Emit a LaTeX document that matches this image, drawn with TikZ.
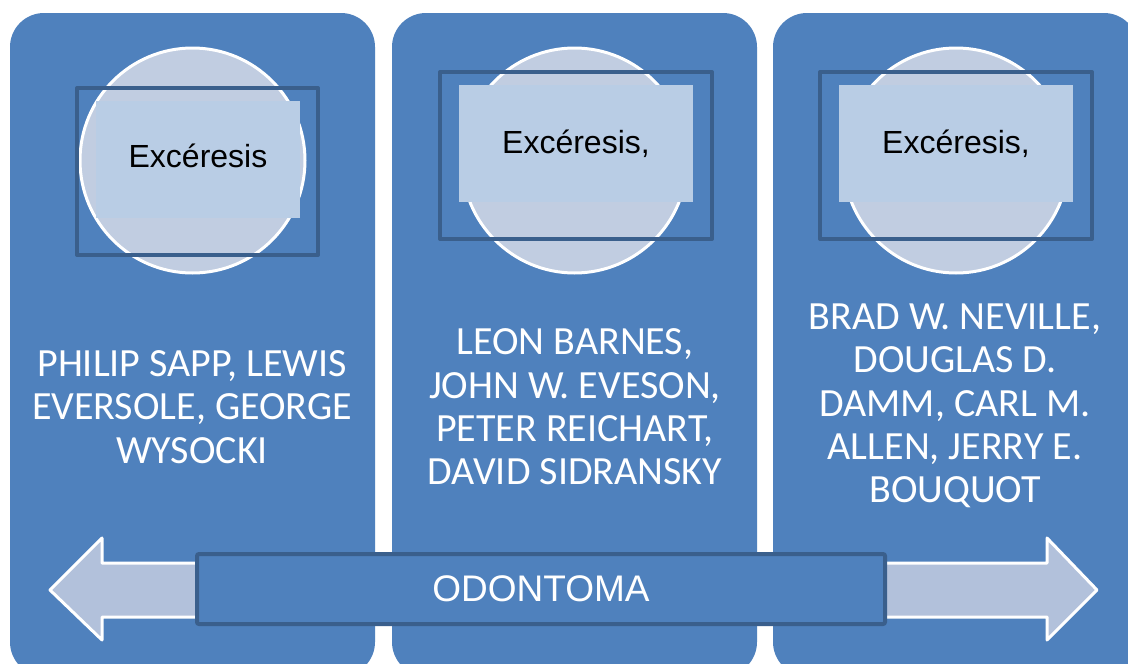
\documentclass[tikz,border=0pt]{standalone}
\usepackage{fontspec}
\newfontfamily\arialf{Liberation Sans}
\newfontfamily\calf{Carlito}
\definecolor{panelblue}{HTML}{4F81BD}
\definecolor{edgeblue}{HTML}{3A5F8C}
\definecolor{discfill}{HTML}{C1CDE1}
\definecolor{tagfill}{HTML}{B9CDE5}
\definecolor{arrowfill}{HTML}{B2C1DB}
\tikzset{
  panel/.style={fill=panelblue, draw=none, rounded corners=34pt},
  disc/.style={circle, fill=discfill, draw=white, line width=3pt, minimum size=225pt, inner sep=0pt},
  frame/.style={draw=edgeblue, line width=4pt, line join=round},
  tag/.style={fill=tagfill, draw=none},
  tagtext/.style={font={\arialf\fontsize{32}{38}\selectfont}, text=black, anchor=base, inner sep=0pt},
  authors/.style={font={\calf\fontsize{40}{43.3}\selectfont}, text=white, align=center, inner sep=0pt},
  bigarrow/.style={fill=arrowfill, draw=white, line width=3pt, line join=round},
  banner/.style={fill=panelblue, draw=edgeblue, line width=4pt, rounded corners=2pt,
    minimum width=688pt, minimum height=70pt, inner sep=0pt,
    font={\arialf\fontsize{37}{44}\selectfont}, text=white}
}
\begin{document}
\begin{tikzpicture}[x=1pt, y=-1pt]
  \clip (0,0) rectangle (1128,664);
  \fill[white] (0,0) rectangle (1128,664);

  % three columns
  \fill[panel] (10,13) rectangle (375,676);
  \fill[panel] (392,13) rectangle (757,676);
  \fill[panel] (773,13) rectangle (1138,676);

  % discs
  \node[disc] (d1) at (192.5,160.5) {};
  \node[disc] (d2) at (574.5,160.5) {};
  \node[disc] (d3) at (956,160.5) {};

  % outline frames and label tags
  \draw[frame] (77,88) rectangle (318,255);
  \draw[frame] (440,72) rectangle (712,239);
  \draw[frame] (820,72) rectangle (1092,239);
  \fill[tag] (96,101) rectangle (300,218);
  \fill[tag] (459,85) rectangle (693,202);
  \fill[tag] (839,85) rectangle (1073,202);

  \node[tagtext] (t1) at (198,167) {Excéresis};
  \node[tagtext] (t2) at (576,153) {Excéresis,};
  \node[tagtext] (t3) at (956,153) {Excéresis,};

  % authors
  \node[authors] (a1) at (192,407) {PHILIP SAPP, LEWIS\\EVERSOLE, GEORGE\\WYSOCKI};
  \node[authors] (a2) at (575,407) {LEON BARNES,\\JOHN W. EVESON,\\PETER REICHART,\\DAVID SIDRANSKY};
  \node[authors] (a3) at (955,406) {BRAD W. NEVILLE,\\DOUGLAS D.\\DAMM, CARL M.\\ALLEN, JERRY E.\\BOUQUOT};

  % double arrow along the bottom
  \draw[bigarrow] (50,590) -- (102,538) -- (102,563) -- (1047,563) -- (1047,538)
    -- (1097,590) -- (1047,640) -- (1047,617) -- (102,617) -- (102,640) -- cycle;

  \node[banner] (b) at (541,589) {ODONTOMA};
\end{tikzpicture}
\end{document}
